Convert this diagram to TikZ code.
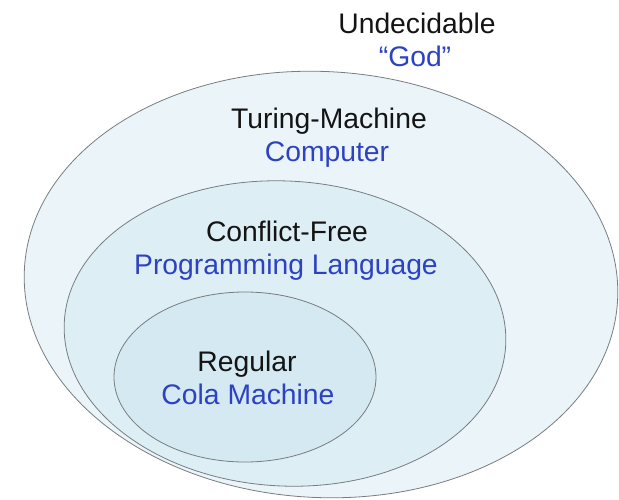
\documentclass[tikz,border=0pt]{standalone}
\usepackage{fontspec}
\setmainfont{Liberation Sans}
\usetikzlibrary{shapes.geometric}
\definecolor{txtblue}{RGB}{45,66,195}
\definecolor{txtblack}{RGB}{20,20,20}
\definecolor{edgegray}{RGB}{120,125,128}
\definecolor{fillouter}{RGB}{235,245,249}
\definecolor{fillmid}{RGB}{221,238,245}
\definecolor{fillinner}{RGB}{212,233,241}
\tikzset{
  setbox/.style={ellipse, draw=edgegray, line width=0.8pt, inner sep=0pt},
  lbl/.style={anchor=base, inner sep=0pt, font=\fontsize{28.3}{34}\selectfont, text=txtblack},
  sublbl/.style={lbl, text=txtblue}
}
\begin{document}
\begin{tikzpicture}[x=1pt,y=-1pt]
\useasboundingbox (0,0) rectangle (619,499);
\fill[white] (0,0) rectangle (619,499);
\begin{scope}
\clip (0,0) rectangle (619,499);
\node[setbox, fill=fillouter, minimum width=594pt, minimum height=426pt, rotate=-3] (outer) at (321,284.5) {};
\node[setbox, fill=fillmid, minimum width=442pt, minimum height=305pt, rotate=-3] (mid) at (285,333.5) {};
\node[setbox, fill=fillinner, minimum width=262pt, minimum height=170pt] (inner) at (245,377) {};
\end{scope}
\node[lbl] (undec) at (417,33) {Undecidable};
\node[sublbl] (god) at (415,66) {“God”};
\node[lbl] (turing) at (329,128) {Turing-Machine};
\node[sublbl] (computer) at (327,161) {Computer};
\node[lbl] (cfree) at (287,241) {Conflict-Free};
\node[sublbl] (prog) at (286,274) {Programming Language};
\node[lbl] (regular) at (247,371) {Regular};
\node[sublbl] (cola) at (248,404) {Cola Machine};
\end{tikzpicture}
\end{document}
